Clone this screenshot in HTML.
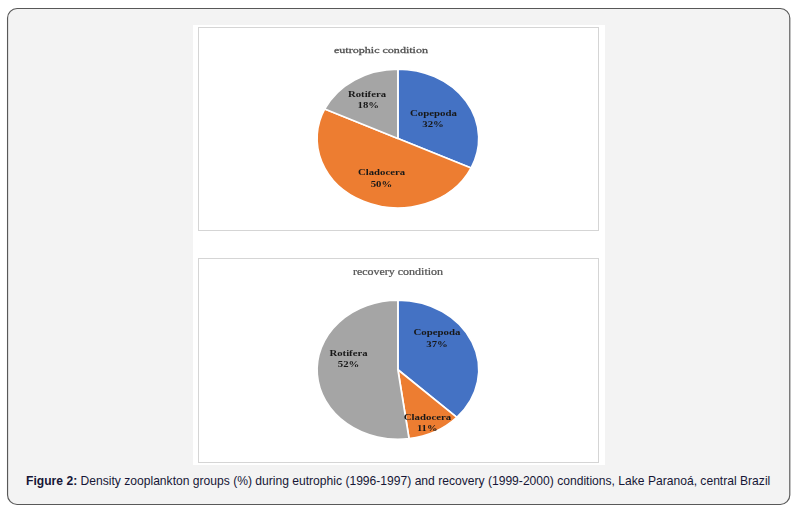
<!DOCTYPE html>
<html lang="en">
<head>
<meta charset="utf-8">
<title>Figure 2</title>
<style>
html,body{margin:0;padding:0;background:#fff;}
body{width:800px;height:512px;position:relative;overflow:hidden;font-family:"Liberation Sans",Arial,sans-serif;}
.box{position:absolute;left:0;top:0;display:block;}
.fig{position:absolute;left:193px;top:25px;display:block;}
.fig text{font-family:"Liberation Serif","Times New Roman",serif;}
.fig .soft{filter:blur(0.3px);}
.fig .lb{font-size:9.05px;font-weight:bold;fill:#181818;}
.fig .tt{font-size:9.2px;fill:#505050;stroke:#505050;stroke-width:0.3px;}
.fig .t2{font-size:9.6px;fill:#565656;stroke:#565656;stroke-width:0.24px;}
.cap{position:absolute;left:7.7px;width:781px;top:473.2px;text-align:center;font-size:12.1px;line-height:16px;color:#161636;white-space:nowrap;}
.cap b{font-weight:bold;}
</style>
</head>
<body>
<svg class="box" width="800" height="512" viewBox="0 0 800 512"><rect x="7.55" y="8.5" width="782.25" height="496" rx="9.5" ry="9.5" fill="#f3f3f3" stroke="#585858" stroke-width="1.15"/></svg>
<svg class="fig" width="412" height="440" viewBox="0 0 412 440">
<rect width="412" height="440" fill="#fff"/>
<g class="soft">
<rect x="5.5" y="2.5" width="400" height="203.0" fill="#fff" stroke="#d5d5d5" stroke-width="1"/>
<rect x="5.5" y="233.5" width="400" height="204.0" fill="#fff" stroke="#d5d5d5" stroke-width="1"/>
<path d="M204.90 113.50L204.90 44.10A80.85 69.4 0 0 1 278.06 143.05Z" fill="#4472C4" stroke="#fff" stroke-width="1.7" stroke-linejoin="round"/>
<path d="M204.90 113.50L278.06 143.05A80.85 69.4 0 0 1 131.74 83.95Z" fill="#ED7D31" stroke="#fff" stroke-width="1.7" stroke-linejoin="round"/>
<path d="M204.90 113.50L131.74 83.95A80.85 69.4 0 0 1 204.90 44.10Z" fill="#A5A5A5" stroke="#fff" stroke-width="1.7" stroke-linejoin="round"/>
<path d="M204.90 344.75L204.90 275.15A80.85 69.6 0 0 1 263.84 392.39Z" fill="#4472C4" stroke="#fff" stroke-width="1.7" stroke-linejoin="round"/>
<path d="M204.90 344.75L263.84 392.39A80.85 69.6 0 0 1 216.04 413.69Z" fill="#ED7D31" stroke="#fff" stroke-width="1.7" stroke-linejoin="round"/>
<path d="M204.90 344.75L216.04 413.69A80.85 69.6 0 1 1 204.90 275.15Z" fill="#A5A5A5" stroke="#fff" stroke-width="1.7" stroke-linejoin="round"/>
<text class="tt" x="141.00" y="27.70" textLength="94.0" lengthAdjust="spacingAndGlyphs">eutrophic condition</text>
<text class="t2" x="160.00" y="249.70" textLength="90.0" lengthAdjust="spacingAndGlyphs">recovery condition</text>
<text class="lb" x="155.00" y="71.70" textLength="38.0" lengthAdjust="spacingAndGlyphs">Rotifera</text>
<text class="lb" x="164.55" y="83.30" textLength="21.5" lengthAdjust="spacingAndGlyphs">18%</text>
<text class="lb" x="217.00" y="90.50" textLength="47.0" lengthAdjust="spacingAndGlyphs">Copepoda</text>
<text class="lb" x="229.25" y="102.00" textLength="21.5" lengthAdjust="spacingAndGlyphs">32%</text>
<text class="lb" x="165.00" y="149.50" textLength="47.0" lengthAdjust="spacingAndGlyphs">Cladocera</text>
<text class="lb" x="177.65" y="162.00" textLength="21.5" lengthAdjust="spacingAndGlyphs">50%</text>
<text class="lb" x="220.50" y="309.75" textLength="47.0" lengthAdjust="spacingAndGlyphs">Copepoda</text>
<text class="lb" x="233.25" y="321.75" textLength="21.5" lengthAdjust="spacingAndGlyphs">37%</text>
<text class="lb" x="136.50" y="330.50" textLength="38.0" lengthAdjust="spacingAndGlyphs">Rotifera</text>
<text class="lb" x="144.75" y="341.75" textLength="21.5" lengthAdjust="spacingAndGlyphs">52%</text>
<text class="lb" x="210.75" y="394.50" textLength="47.5" lengthAdjust="spacingAndGlyphs">Cladocera</text>
<text class="lb" x="223.95" y="405.75" textLength="20.5" lengthAdjust="spacingAndGlyphs">11%</text>
</g>
</svg>
<div class="cap"><b>Figure 2:</b> Density zooplankton groups (%) during eutrophic (1996-1997) and recovery (1999-2000) conditions, Lake Paranoá, central Brazil</div>
</body>
</html>
